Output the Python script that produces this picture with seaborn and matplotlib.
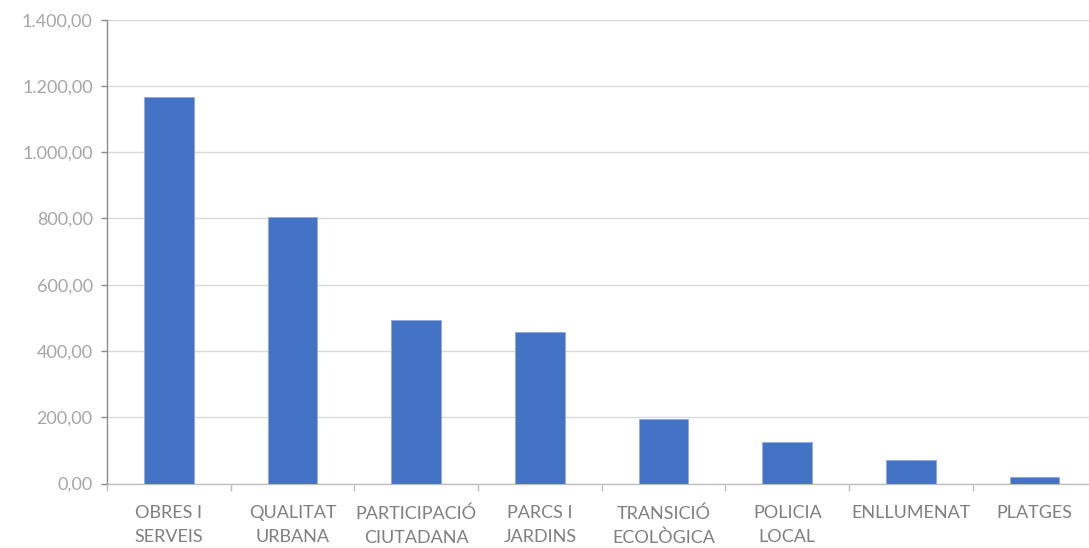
import matplotlib
matplotlib.use("Agg")
import matplotlib.pyplot as plt
import seaborn as sns
import pandas as pd
import numpy as np
from matplotlib.ticker import FuncFormatter, FixedLocator

categories = ["OBRES I\nSERVEIS", "QUALITAT\nURBANA", "PARTICIPACIÓ\nCIUTADANA", "PARCS I\nJARDINS",
              "TRANSICIÓ\nECOLÒGICA", "POLICIA\nLOCAL", "ENLLUMENAT", "PLATGES"]
values = [1166, 803, 493, 458, 196, 126, 72, 19]
yticks = [0, 200, 400, 600, 800, 1000, 1200, 1400]

sns.set_theme(style="white")
plt.rcParams['font.family'] = ['Lato', 'DejaVu Sans']

df = pd.DataFrame({"cat": categories, "val": values})

fig = plt.figure(figsize=(10.89, 5.48), dpi=100)
ax = fig.add_axes([107/1089, 64.5/548, 1 - 107/1089, 463.8/548])

sns.barplot(data=df, x="cat", y="val", color="#4472C4", width=0.4, saturation=1,
            edgecolor="#8FAADC", linewidth=0.6, ax=ax, zorder=3)

ax.set_ylim(0, 1400)
ax.set_xlim(-0.5, 7.44)
ax.set_yticks(yticks)

def fmt(v, pos):
    s = f"{v:,.2f}"
    return s.replace(",", "X").replace(".", ",").replace("X", ".")
ax.yaxis.set_major_formatter(FuncFormatter(fmt))

ax.grid(axis="y", color="#D9D9D9", linewidth=1, zorder=0)
ax.set_axisbelow(True)
for s in ["top", "right"]:
    ax.spines[s].set_visible(False)
ax.spines["left"].set_color("#8C8C8C")
ax.spines["bottom"].set_color("#BFBFBF")
ax.spines["left"].set_linewidth(1)
ax.spines["bottom"].set_linewidth(1)

ax.tick_params(axis="y", which="major", length=4.3, width=1, color="#8C8C8C", pad=6,
               labelsize=13, labelcolor="#A6A6A6", left=True)
ax.tick_params(axis="x", which="major", length=0, pad=15.5, labelsize=13, labelcolor="#7F7F7F")
ax.xaxis.set_minor_locator(FixedLocator(np.arange(-0.5, 8, 1.0)))
ax.tick_params(axis="x", which="minor", length=5, width=1, color="#BFBFBF", bottom=True)
for lab in ax.get_xticklabels():
    lab.set_linespacing(1.62)
ax.set_xlabel("")
ax.set_ylabel("")

fig.savefig("out.png", dpi=100)
